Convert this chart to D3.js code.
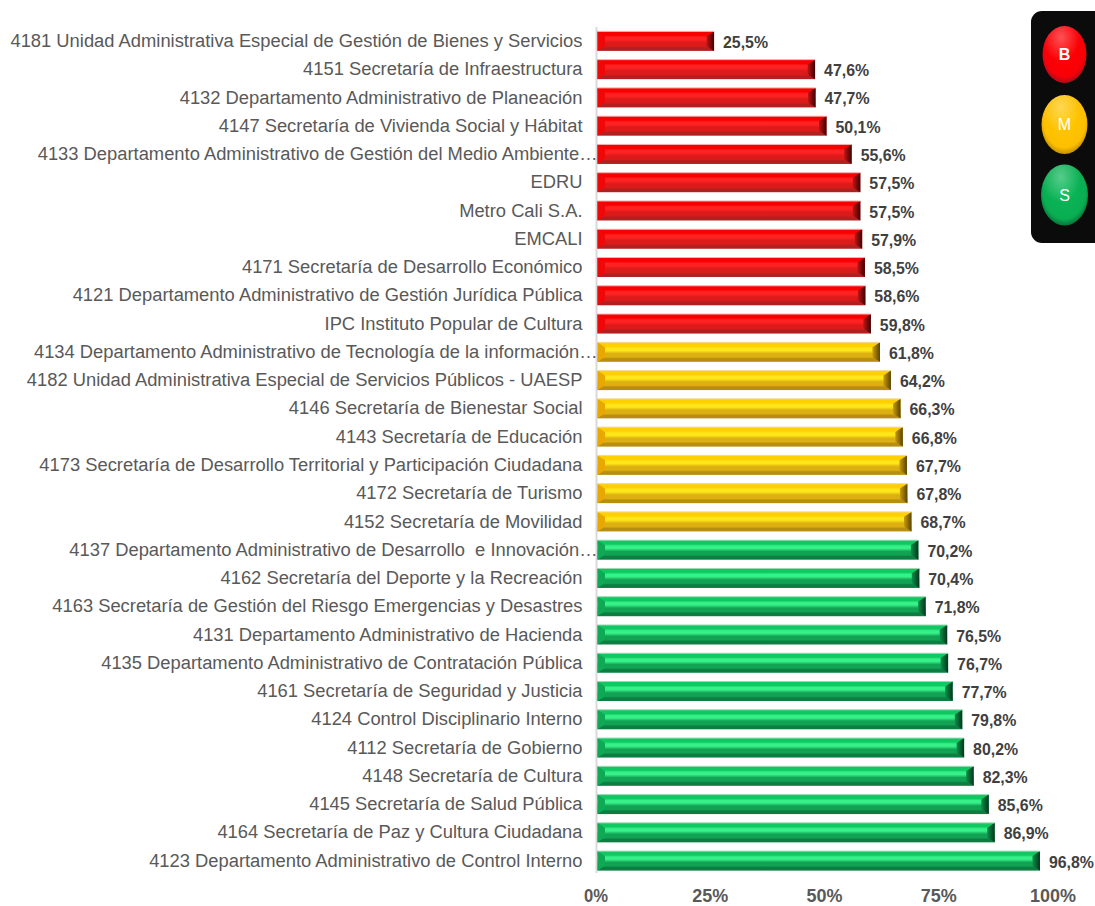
<!DOCTYPE html>
<html><head><meta charset="utf-8">
<script src="https://cdn.jsdelivr.net/npm/d3@7"></script>
<style>html,body{margin:0;padding:0;background:#fff}svg{display:block}</style>
</head><body><svg id="c" width="1095" height="906"></svg>
<script>
const categories=[
"4181 Unidad Administrativa Especial de Gestión de Bienes y Servicios",
"4151 Secretaría de Infraestructura",
"4132 Departamento Administrativo de Planeación",
"4147 Secretaría de Vivienda Social y Hábitat",
"4133 Departamento Administrativo de Gestión del Medio Ambiente…",
"EDRU","Metro Cali S.A.","EMCALI",
"4171 Secretaría de Desarrollo Económico",
"4121 Departamento Administrativo de Gestión Jurídica Pública",
"IPC Instituto Popular de Cultura",
"4134 Departamento Administrativo de Tecnología de la información…",
"4182 Unidad Administrativa Especial de Servicios Públicos - UAESP",
"4146 Secretaría de Bienestar Social",
"4143 Secretaría de Educación",
"4173 Secretaría de Desarrollo Territorial y Participación Ciudadana",
"4172 Secretaría de Turismo",
"4152 Secretaría de Movilidad",
"4137 Departamento Administrativo de Desarrollo  e Innovación…",
"4162 Secretaría del Deporte y la Recreación",
"4163 Secretaría de Gestión del Riesgo Emergencias y Desastres",
"4131 Departamento Administrativo de Hacienda",
"4135 Departamento Administrativo de Contratación Pública",
"4161 Secretaría de Seguridad y Justicia",
"4124 Control Disciplinario Interno",
"4112 Secretaría de Gobierno",
"4148 Secretaría de Cultura",
"4145 Secretaría de Salud Pública",
"4164 Secretaría de Paz y Cultura Ciudadana",
"4123 Departamento Administrativo de Control Interno"];
const values=[25.5,47.6,47.7,50.1,55.6,57.5,57.5,57.9,58.5,58.6,59.8,61.8,64.2,66.3,66.8,67.7,67.8,68.7,70.2,70.4,71.8,76.5,76.7,77.7,79.8,80.2,82.3,85.6,86.9,96.8];
const groups=["B","B","B","B","B","B","B","B","B","B","B","M","M","M","M","M","M","M","S","S","S","S","S","S","S","S","S","S","S","S"];
const ticks=[0,25,50,75,100];
const legendKeys=["B","M","S"];
const palette={
 B:{top:"#f80000",mid:"#ff2222",low:"#dc1a1a",bot:"#b02020",endIn:"#c01414",endOut:"#3c0404",left:"#f00808",edge:"#f4b0b0"},
 M:{top:"#ffd000",mid:"#ffe61a",low:"#dcb010",bot:"#b88e12",endIn:"#c89a08",endOut:"#5a4402",left:"#e8a800",edge:"#f2d898"},
 S:{top:"#10c862",mid:"#38f088",low:"#12a254",bot:"#0c7e42",endIn:"#0e9048",endOut:"#04361c",left:"#0fa854",edge:"#9cd8b4"}};

const svg=d3.select("#c");
const defs=svg.append("defs");
const x=d3.scaleLinear().domain([0,100]).range([597.5,1054.6]);
const y=d3.scaleBand().domain(categories).range([27,875]).paddingInner(0.31).paddingOuter(0.155);
const F="'Liberation Sans',Arial,sans-serif";

legendKeys.forEach(k=>{
 const p=palette[k];
 const g=defs.append("linearGradient").attr("id","bar"+k).attr("x1",0).attr("x2",0).attr("y1",0).attr("y2",1);
 [[0,p.top],[.2,p.top],[.3,p.mid],[.42,p.mid],[.58,p.low],[.76,p.low],[.84,p.bot],[1,p.bot]]
   .forEach(s=>g.append("stop").attr("offset",s[0]).attr("stop-color",s[1]));
 const e=defs.append("linearGradient").attr("id","end"+k).attr("x1",0).attr("x2",1).attr("y1",0).attr("y2",0);
 e.append("stop").attr("offset",0).attr("stop-color",p.endIn);
 e.append("stop").attr("offset",1).attr("stop-color",p.endOut);
 const r=defs.append("radialGradient").attr("id","lamp"+k).attr("cx",.5).attr("cy",.44).attr("r",.58);
 const lc={B:["#ff0000","#f80008","#9c1020"],M:["#ffc800","#fdbf00","#b88a00"],S:["#08b858","#0aae52","#066a36"]}[k];
 r.append("stop").attr("offset",0).attr("stop-color",lc[0]);
 r.append("stop").attr("offset",.78).attr("stop-color",lc[1]);
 r.append("stop").attr("offset",1).attr("stop-color",lc[2]);
});
const hl=defs.append("radialGradient").attr("id","lampHi").attr("cx",.42).attr("cy",.2).attr("r",.42);
hl.append("stop").attr("offset",0).attr("stop-color","#fff").attr("stop-opacity",.32);
hl.append("stop").attr("offset",1).attr("stop-color","#fff").attr("stop-opacity",0);

// baseline
svg.append("line").attr("x1",x(0)-1).attr("x2",x(0)-1).attr("y1",27).attr("y2",873)
  .attr("stroke","#d9d9d9").attr("stroke-width",2);

// bars
const rows=d3.range(values.length).map(i=>({c:categories[i],v:values[i],g:groups[i]}));
const bar=svg.append("g").selectAll("g").data(rows).join("g");
bar.append("rect").attr("x",x(0)).attr("y",d=>y(d.c)).attr("width",d=>x(d.v)-x(0)).attr("height",y.bandwidth())
  .attr("fill",d=>`url(#bar${d.g})`);
const bev=7.5, bh=y.bandwidth();
bar.append("path").attr("fill",d=>palette[d.g].left).attr("d",d=>{
  const a=x(0),t=y(d.c);
  return `M${a},${t}L${a+bev},${t+bh*.25}L${a+bev},${t+bh*.75}L${a},${t+bh}Z`;});
bar.append("path").attr("fill",d=>`url(#end${d.g})`).attr("d",d=>{
  const b=x(d.v),t=y(d.c);
  return `M${b},${t}L${b-bev},${t+bh*.25}L${b-bev},${t+bh*.75}L${b},${t+bh}Z`;});
bar.append("rect").attr("x",x(0)).attr("y",d=>y(d.c)-.5).attr("width",d=>x(d.v)-x(0)).attr("height",1)
  .attr("fill",d=>palette[d.g].edge);

// value labels
bar.append("text").attr("x",d=>x(d.v)+9).attr("y",d=>y(d.c)+bh/2+1).attr("dy","0.35em")
  .attr("font-family",F).attr("font-weight",700).attr("font-size",16.5).attr("fill","#404040")
  .attr("textLength",45).attr("lengthAdjust","spacingAndGlyphs")
  .text(d=>d.v.toFixed(1).replace(".",",")+"%");

// category axis
const ax=svg.append("g").attr("transform",`translate(${x(0)},0)`)
  .call(d3.axisLeft(y).tickSize(0).tickPadding(15));
ax.select(".domain").remove();
ax.selectAll("text").attr("font-family",F).attr("font-size",18.35).attr("fill","#595959")
  .attr("xml:space","preserve").style("white-space","pre")
  .attr("dy","0.32em")
  .attr("x",d=>d.endsWith("…")?0:-15);

// value axis
const bx=svg.append("g").attr("transform","translate(-2,888)")
  .call(d3.axisBottom(x).tickValues(ticks).tickFormat(d=>d+"%").tickSize(0).tickPadding(0));
bx.select(".domain").remove();
bx.selectAll("text").attr("font-family",F).attr("font-weight",700).attr("font-size",18).attr("fill","#595959").attr("dy","0.75em")
  .attr("textLength",d=>d===0?24:d===100?46:36).attr("lengthAdjust","spacingAndGlyphs");

// traffic light legend
const leg=svg.append("g");
leg.append("rect").attr("x",1031).attr("y",11).attr("width",80).attr("height",232).attr("rx",11).attr("fill","#0b0b0b");
const lampY=d3.scaleOrdinal().domain(legendKeys).range([54.5,124.5,195]);
const lampRx=d3.scaleOrdinal().domain(legendKeys).range([22,23,23.5]);
const lampRy=d3.scaleOrdinal().domain(legendKeys).range([28.5,29.5,30.5]);
const lamps=leg.selectAll("g").data(legendKeys).join("g");
lamps.append("ellipse").attr("cx",1064.5).attr("cy",d=>lampY(d)).attr("rx",d=>lampRx(d)).attr("ry",d=>lampRy(d))
  .attr("fill",d=>`url(#lamp${d})`);
lamps.append("ellipse").attr("cx",1064.5).attr("cy",d=>lampY(d)).attr("rx",d=>lampRx(d)).attr("ry",d=>lampRy(d))
  .attr("fill","url(#lampHi)");
lamps.append("text").attr("x",1064.5).attr("y",d=>lampY(d)).attr("dy","0.35em").attr("text-anchor","middle")
  .attr("font-family",F).attr("font-size",16).attr("font-weight",d=>d==="B"?700:400).attr("fill","#fff").text(d=>d);
</script></body></html>
